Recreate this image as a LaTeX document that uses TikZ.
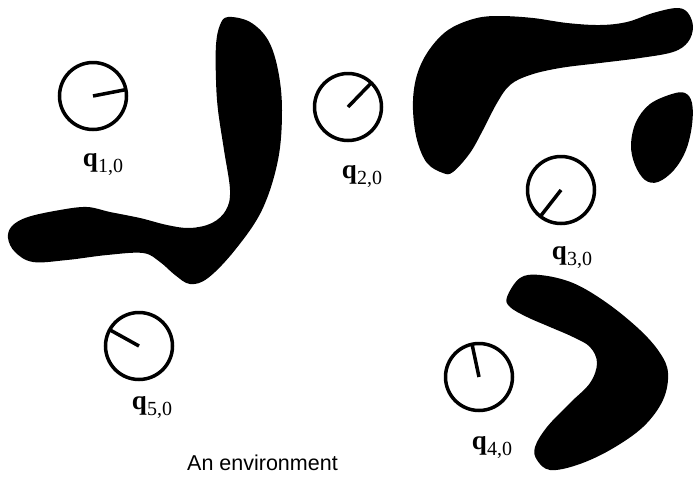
\documentclass[tikz,border=0pt]{standalone}
\usepackage{fontspec}
\setmainfont{Liberation Serif}
\newfontfamily\envfont{Liberation Sans}
\usetikzlibrary{calc}

\newcommand{\qlab}[1]{{\bfseries q}\raisebox{-6pt}{\fontsize{20}{20}\selectfont #1,0}}

\begin{document}
\begin{tikzpicture}[x=1pt,y=-1pt,
	robot/.style={line width=3.5pt},
	obstacle/.style={fill=black, draw=none},
	qlabel/.style={font=\fontsize{27}{27}\selectfont, inner sep=0pt}]

\newcommand{\rad}{33.5pt}

	\useasboundingbox (0,0) rectangle (694,477);

	% obstacles
	\fill[obstacle] plot[smooth cycle, tension=0.6] coordinates {
		(228,17) (250,22) (268,40) (278,70) (282,110) (278,160) (262,210)
		(235,250) (208,278) (190,284) (175,275) (160,262) (143,253) (107,255)
		(67,260) (33,262) (15,252) (8,238) (12,226) (28,217) (60,210) (87,207)
		(110,212) (140,218) (167,225) (190,228) (212,223) (226,210) (230,190)
		(224,150) (218,110) (216,80) (216,45) (220,25)};
	\fill[obstacle] plot[smooth cycle, tension=0.6] coordinates {
		(413,110) (415,83) (423,60) (437,40) (453,27) (477,18) (500,16) (533,18)
		(567,23) (600,25) (627,22) (653,13) (677,8) (688,13) (693,27) (688,42)
		(673,52) (640,58) (600,63) (560,68) (530,75) (510,85) (497,103) (483,130)
		(470,153) (453,172) (443,173) (427,163) (417,140)};
	\fill[obstacle] plot[smooth cycle, tension=0.6] coordinates {
		(672,94) (685,93) (692,103) (692,125) (686,150) (674,170) (658,182)
		(645,180) (635,165) (631,145) (636,122) (650,104)};
	\fill[obstacle] plot[smooth cycle, tension=0.6] coordinates {
		(507,297) (520,278) (540,275) (573,283) (607,303) (640,330) (660,353)
		(668,373) (663,400) (643,427) (610,450) (577,465) (550,470) (537,460)
		(535,447) (547,427) (570,403) (590,383) (597,363) (590,347) (573,337)
		(550,327) (527,317) (510,307)};

	% robots
	\coordinate (r1) at (93,96);
	\coordinate (r2) at (348,107);
	\coordinate (r3) at (561,190);
	\coordinate (r4) at (479,377);
	\coordinate (r5) at (139,346);

	\foreach \name/\ang in {r1/11, r2/46, r3/232, r4/102, r5/151}{
		\draw[robot] (\name) circle (\rad);
		\draw[robot] (\name) -- ($(\name)+(\ang:\rad)$);
	}

	\node[qlabel] (l1) at (103,165) {\qlab{1}};
	\node[qlabel] (l2) at (362,177) {\qlab{2}};
	\node[qlabel] (l3) at (572,258) {\qlab{3}};
	\node[qlabel] (l4) at (492,448) {\qlab{4}};
	\node[qlabel] (l5) at (152,408) {\qlab{5}};

	\node[font=\envfont\fontsize{21.5}{21.5}\selectfont, anchor=base west, inner sep=0pt] (env) at (187,470) {An environment};
\end{tikzpicture}
\end{document}
